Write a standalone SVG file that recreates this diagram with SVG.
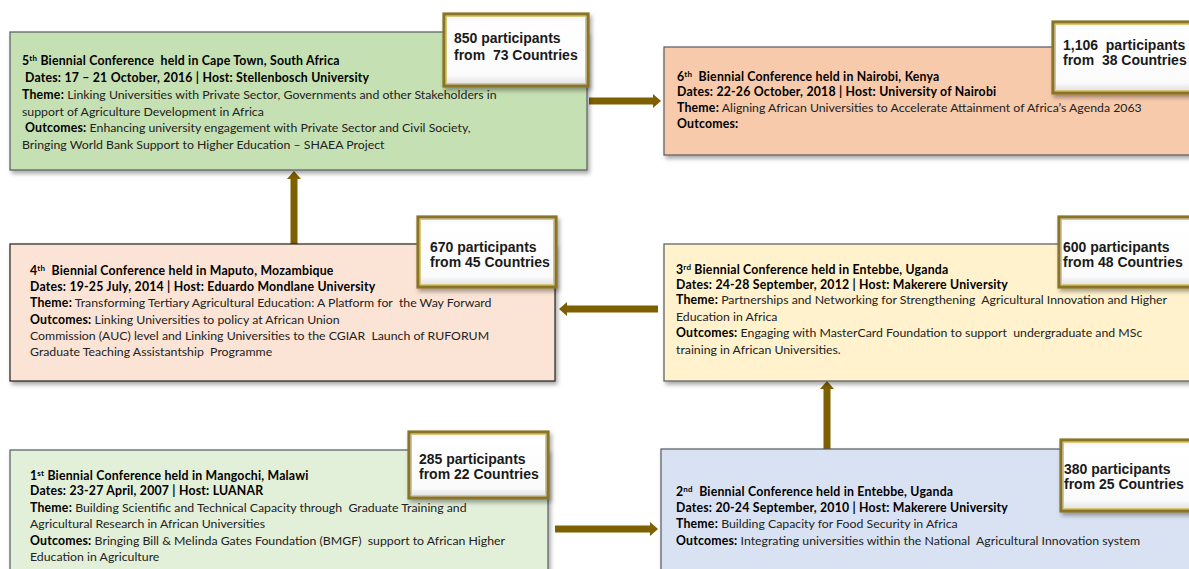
<svg xmlns="http://www.w3.org/2000/svg" width="1189" height="569" viewBox="0 0 1189 569" xml:space="preserve">
<defs>
<style>
text{white-space:pre}
.box{stroke:#555a60;stroke-width:1.2}
.t{font-family:Lato,"Liberation Sans",sans-serif;font-size:12.3px;fill:#222}
.b{font-weight:bold;fill:#000;letter-spacing:0.2px}
.sup{font-size:8px}
.p{font-family:"Liberation Sans",Arial,sans-serif;font-size:14px;font-weight:bold;fill:#1a1a1a}
.pbox{fill:url(#bevel);stroke:#8a7426;stroke-width:3.2}
.pin{fill:none;stroke:#d8c878;stroke-width:1}
.arr{fill:#7f6000}
</style>
<linearGradient id="bevel" x1="0" y1="0" x2="0" y2="1">
<stop offset="0" stop-color="#f2f2f2"/>
<stop offset="0.12" stop-color="#ffffff"/>
<stop offset="0.85" stop-color="#fbfbfb"/>
<stop offset="1" stop-color="#dcdcdc"/>
</linearGradient>
<filter id="sh" x="-5%" y="-10%" width="112%" height="130%">
<feDropShadow dx="2" dy="3" stdDeviation="2" flood-color="#000" flood-opacity="0.35"/>
</filter>
</defs>
<rect width="1189" height="569" fill="#fff"/>
<g id="connectors">
<path class="arr" d="M589 97.5 H653 V94 L661 101 L653 108 V104.5 H589 Z"/>
<path class="arr" d="M658 305.5 H567 V302 L559 309 L567 316 V312.5 H658 Z"/>
<path class="arr" d="M290.5 244 V179 H287 L294 171 L301 179 H297.5 V244 Z"/>
<path class="arr" d="M555 525.5 H650 V522 L658 529 L650 536 V532.5 H555 Z"/>
<path class="arr" d="M823.5 449 V389 H820 L827 381 L834 389 H830.5 V449 Z"/>
</g>
<g id="node5">
<rect class="box" x="10" y="32" width="577" height="138" fill="#c5e0b3" filter="url(#sh)"/>
<text class="t" x="22" y="65"><tspan class="b">5<tspan class="sup" dy="-4">th</tspan><tspan dy="4"> Biennial Conference  held in Cape Town, South Africa</tspan></tspan></text>
<text class="t b" x="25" y="82">Dates: 17 – 21 October, 2016 | Host: Stellenbosch University</text>
<text class="t" x="22" y="99"><tspan class="b">Theme:</tspan> Linking Universities with Private Sector, Governments and other Stakeholders in</text>
<text class="t" x="22" y="116">support of Agriculture Development in Africa</text>
<text class="t" x="25" y="132"><tspan class="b">Outcomes:</tspan> Enhancing university engagement with Private Sector and Civil Society,</text>
<text class="t" x="22" y="149">Bringing World Bank Support to Higher Education – SHAEA Project</text>
<g filter="url(#sh)"><rect class="pbox" x="444" y="14" width="144" height="72"/></g>
<rect class="pin" x="446.5" y="16.5" width="139" height="67"/>
<text class="p" x="454" y="43">850 participants</text>
<text class="p" x="454" y="60">from  73 Countries</text>
</g>
<g id="node6">
<rect class="box" x="664" y="47" width="535" height="108" fill="#f7caac" filter="url(#sh)"/>
<text class="t" x="677" y="81"><tspan class="b">6<tspan class="sup" dy="-4">th</tspan><tspan dy="4">  Biennial Conference held in Nairobi, Kenya</tspan></tspan></text>
<text class="t b" x="677" y="96">Dates: 22-26 October, 2018 | Host: University of Nairobi</text>
<text class="t" x="677" y="112"><tspan class="b">Theme:</tspan> Aligning African Universities to Accelerate Attainment of Africa’s Agenda 2063</text>
<text class="t b" x="677" y="128">Outcomes:</text>
<g filter="url(#sh)"><rect class="pbox" x="1053" y="22" width="140" height="71"/></g>
<rect class="pin" x="1055.5" y="24.5" width="140" height="66"/>
<text class="p" x="1063" y="50">1,106  participants</text>
<text class="p" x="1063" y="65">from  38 Countries</text>
</g>
<g id="node4">
<rect x="10" y="244" width="545" height="137" fill="#fbe4d5" stroke="#222" stroke-width="1.2" filter="url(#sh)"/>
<text class="t" x="30" y="275"><tspan class="b">4<tspan class="sup" dy="-4">th</tspan><tspan dy="4">  Biennial Conference held in Maputo, Mozambique</tspan></tspan></text>
<text class="t b" x="30" y="291">Dates: 19-25 July, 2014 | Host: Eduardo Mondlane University</text>
<text class="t" x="30" y="307"><tspan class="b">Theme:</tspan> Transforming Tertiary Agricultural Education: A Platform for  the Way Forward</text>
<text class="t" x="30" y="324"><tspan class="b">Outcomes:</tspan> Linking Universities to policy at African Union</text>
<text class="t" x="30" y="340">Commission (AUC) level and Linking Universities to the CGIAR  Launch of RUFORUM</text>
<text class="t" x="30" y="356">Graduate Teaching Assistantship  Programme</text>
<g filter="url(#sh)"><rect class="pbox" x="418" y="217" width="138" height="70"/></g>
<rect class="pin" x="420.5" y="219.5" width="133" height="65"/>
<text class="p" x="430" y="252">670 participants</text>
<text class="p" x="430" y="267">from 45 Countries</text>
</g>
<g id="node3">
<rect class="box" x="664" y="244" width="535" height="137" fill="#fff2cc" filter="url(#sh)"/>
<text class="t" x="676" y="274"><tspan class="b">3<tspan class="sup" dy="-4">rd</tspan><tspan dy="4"> Biennial Conference held in Entebbe, Uganda</tspan></tspan></text>
<text class="t b" x="676" y="289">Dates: 24-28 September, 2012 | Host: Makerere University</text>
<text class="t" x="676" y="304"><tspan class="b">Theme:</tspan> Partnerships and Networking for Strengthening  Agricultural Innovation and Higher</text>
<text class="t" x="676" y="321">Education in Africa</text>
<text class="t" x="676" y="337"><tspan class="b">Outcomes:</tspan> Engaging with MasterCard Foundation to support  undergraduate and MSc</text>
<text class="t" x="676" y="354">training in African Universities.</text>
<g filter="url(#sh)"><rect class="pbox" x="1059" y="217" width="140" height="70"/></g>
<rect class="pin" x="1061.5" y="219.5" width="140" height="65"/>
<text class="p" x="1063" y="252">600 participants</text>
<text class="p" x="1063" y="267">from 48 Countries</text>
</g>
<g id="node1">
<rect class="box" x="10" y="450" width="538" height="130" fill="#e2efd9" filter="url(#sh)"/>
<text class="t" x="30" y="480"><tspan class="b">1<tspan class="sup" dy="-4">st</tspan><tspan dy="4"> Biennial Conference held in Mangochi, Malawi</tspan></tspan></text>
<text class="t b" x="30" y="495">Dates: 23-27 April, 2007 | Host: LUANAR</text>
<text class="t" x="30" y="512"><tspan class="b">Theme:</tspan> Building Scientific and Technical Capacity through  Graduate Training and</text>
<text class="t" x="30" y="528">Agricultural Research in African Universities</text>
<text class="t" x="30" y="545"><tspan class="b">Outcomes:</tspan> Bringing Bill &amp; Melinda Gates Foundation (BMGF)  support to African Higher</text>
<text class="t" x="30" y="561">Education in Agriculture</text>
<g filter="url(#sh)"><rect class="pbox" x="409" y="432" width="139" height="66"/></g>
<rect class="pin" x="411.5" y="434.5" width="134" height="61"/>
<text class="p" x="419" y="464">285 participants</text>
<text class="p" x="419" y="479">from 22 Countries</text>
</g>
<g id="node2">
<rect class="box" x="661" y="449" width="538" height="130" fill="#d9e2f3" filter="url(#sh)"/>
<text class="t" x="676" y="496"><tspan class="b">2<tspan class="sup" dy="-4">nd</tspan><tspan dy="4">  Biennial Conference held in Entebbe, Uganda</tspan></tspan></text>
<text class="t b" x="676" y="512">Dates: 20-24 September, 2010 | Host: Makerere University</text>
<text class="t" x="676" y="528"><tspan class="b">Theme:</tspan> Building Capacity for Food Security in Africa</text>
<text class="t" x="676" y="545"><tspan class="b">Outcomes:</tspan> Integrating universities within the National  Agricultural Innovation system</text>
<g filter="url(#sh)"><rect class="pbox" x="1061" y="440" width="140" height="71"/></g>
<rect class="pin" x="1063.5" y="442.5" width="140" height="66"/>
<text class="p" x="1064" y="474">380 participants</text>
<text class="p" x="1064" y="489">from 25 Countries</text>
</g>
</svg>
